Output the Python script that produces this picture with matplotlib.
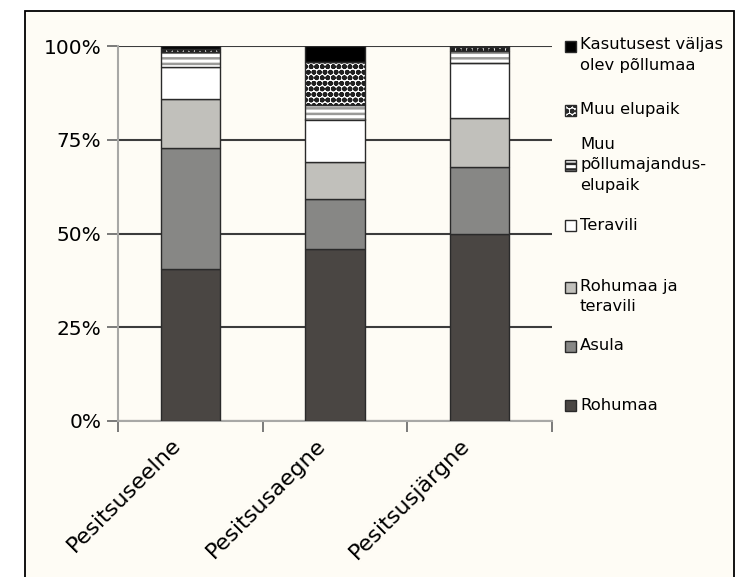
import matplotlib
matplotlib.use('Agg')
import matplotlib.pyplot as plt
import matplotlib.patches as mpatches
import matplotlib.transforms as mtrans
import numpy as np

###############################################
### Andmed

perioodid = ['Pesitsuseelne', 'Pesitsusaegne', 'Pesitsusjärgne']

rohumaa      = [40.5, 46.0, 50.0]
asula        = [32.4, 13.2, 17.8]
rohu_tera    = [13.0, 10.0, 12.9]
teravili     = [8.4, 11.2, 14.7]
muu_pollum   = [4.0, 3.9, 3.3]
muu_elupaik  = [1.0, 11.4, 0.9]
kasutusest   = [0.7, 4.3, 0.4]

sildid = ['Rohumaa', 'Asula', 'Rohumaa ja\nteravili', 'Teravili',
          'Muu\npõllumajandus-\nelupaik', 'Muu elupaik',
          'Kasutusest väljas\nolev põllumaa']

###############################################
### Stiilid

taust = '#fefcf5'
seeriad = [rohumaa, asula, rohu_tera, teravili, muu_pollum, muu_elupaik, kasutusest]
varvid  = ['#4a4643', '#878785', '#c1c0bb', '#ffffff', '#ffffff', '#ffffff', '#000000']
viirud  = [None, None, None, None, '---', 'ooo', None]
viiru_v = [None, None, None, None, '#9a9a98', '#202020', None]

plt.rcParams['font.family'] = 'DejaVu Sans'
plt.rcParams['hatch.linewidth'] = 1.8

W, H = 746, 577
fig = plt.figure(figsize=(W/100, H/100), dpi=100)
fig.patch.set_facecolor('white')

# raam
fig.patches.append(mpatches.Rectangle((25/W, -0.1), (734-25)/W, 1.1 - 11/H,
                   transform=fig.transFigure, facecolor=taust,
                   edgecolor='black', lw=1.3, zorder=-5))

ax = fig.add_axes([118/W, 1 - 421/H, (552-118)/W, (421-46)/H])
ax.set_facecolor(taust)

x = np.arange(len(perioodid))
pohi = np.zeros(len(perioodid))
for s, v, h, hv in zip(seeriad, varvid, viirud, viiru_v):
    s = np.array(s)
    if h:
        ax.bar(x, s, 0.41, bottom=pohi, color=v, hatch=h, edgecolor=hv, lw=0, zorder=3)
        ax.bar(x, s, 0.41, bottom=pohi, fill=False, edgecolor='#2a2a2a', lw=1.0, zorder=4)
    else:
        ax.bar(x, s, 0.41, bottom=pohi, color=v, edgecolor='#2a2a2a', lw=1.0, zorder=3)
    pohi += s

ax.set_xlim(-0.5, 2.5)
ax.set_ylim(0, 100)
ax.set_yticks([0, 25, 50, 75, 100])
ax.set_yticklabels(['0%', '25%', '50%', '75%', '100%'], fontsize=14.5)
ax.yaxis.grid(True, color='#3c3c3c', lw=1.5, zorder=1)
ax.set_axisbelow(True)
ax.set_xticks([-0.5, 0.5, 1.5, 2.5])
ax.set_xticklabels([])

# kategooriate sildid, 45 kraadi
nihe = mtrans.ScaledTranslation(-0.20, -0.14, fig.dpi_scale_trans)
tr = ax.get_xaxis_transform() + nihe
for xi, p in zip(x, perioodid):
    ax.text(xi, 0, p, transform=tr, rotation=45, ha='right', va='top',
            rotation_mode='anchor', fontsize=16, clip_on=False)

ax.tick_params(axis='x', which='major', length=8, color='#707070', width=1.3)
ax.tick_params(axis='y', length=8, color='#707070', width=1.3, pad=4)
for k in ['top', 'right']:
    ax.spines[k].set_visible(False)
for k in ['left', 'bottom']:
    ax.spines[k].set_color('#a8a8a6')
    ax.spines[k].set_linewidth(1.5)

###############################################
### Legend (käsitsi)

marker_y = [405, 346, 287, 225, 165, 110, 46]
tekst_y  = [405, 346, 296.5, 225, 165, 110, 55]
for i in range(len(seeriad)):
    my = 1 - marker_y[i]/H
    fig.patches.append(mpatches.Rectangle((565/W, my - 5.5/H), 11/W, 11/H,
                       transform=fig.transFigure, facecolor=varvid[i],
                       hatch=viirud[i], edgecolor='#2a2a2a', lw=1.0, zorder=5))
    fig.text(580/W, 1 - tekst_y[i]/H, sildid[i], fontsize=11.8,
             va='center', ha='left', linespacing=1.45)

fig.savefig('out.png', dpi=100, facecolor=fig.get_facecolor())
